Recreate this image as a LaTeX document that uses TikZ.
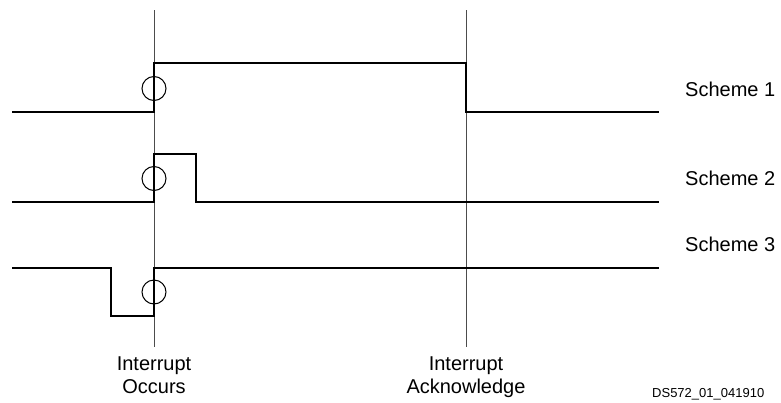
\documentclass[tikz,border=0pt]{standalone}
\usepackage{fontspec}
\setmainfont{Liberation Sans}
\tikzset{wave/.style={line width=2.4pt, line join=miter},
    marker/.style={draw=black!70, line width=1pt},
    ring/.style={circle, draw, line width=1pt, minimum size=24pt, inner sep=0pt},
    tag/.style={font=\fontsize{20}{23}\selectfont, align=center, inner sep=0pt},
    }

\begin{document}
\begin{tikzpicture}[x=1pt,y=-1pt]
	\useasboundingbox (0,0) rectangle (781,402);
	% time markers
	\coordinate (occT) at (154,10);
	\coordinate (occB) at (154,347);
	\coordinate (ackT) at (466,10);
	\coordinate (ackB) at (466,347);
	\draw[marker] (occT) -- (occB);
	\draw[marker] (ackT) -- (ackB);
	% waveforms
	\draw[wave] (12,112) -| (154,63) -| (466,112) -- (659,112);%Scheme 1
	\draw[wave] (12,202) -| (154,154) -| (196,202) -- (659,202);%Scheme 2
	\draw[wave] (12,268) -| (111,316) -| (154,268) -- (659,268);%Scheme 3
	% rings on the interrupt edge
	\foreach \n/\y in {1/88.5,2/178.5,3/292}
		\node[ring] (ring\n) at (154,\y) {};
	% labels
	\foreach \n/\y in {1/96,2/185,3/251}
		\node[tag, anchor=base west] (scheme\n) at (685,\y) {Scheme \n};
	\node[tag, anchor=north] (occurs) at (154,357) {Interrupt\\Occurs};
	\node[tag, anchor=north] (ack) at (466,357) {Interrupt\\Acknowledge};
	\node[font=\fontsize{13}{15}\selectfont, anchor=base west, inner sep=0pt] (dsid) at (652,397.5) {DS572\_01\_041910};
\end{tikzpicture}
\end{document}
